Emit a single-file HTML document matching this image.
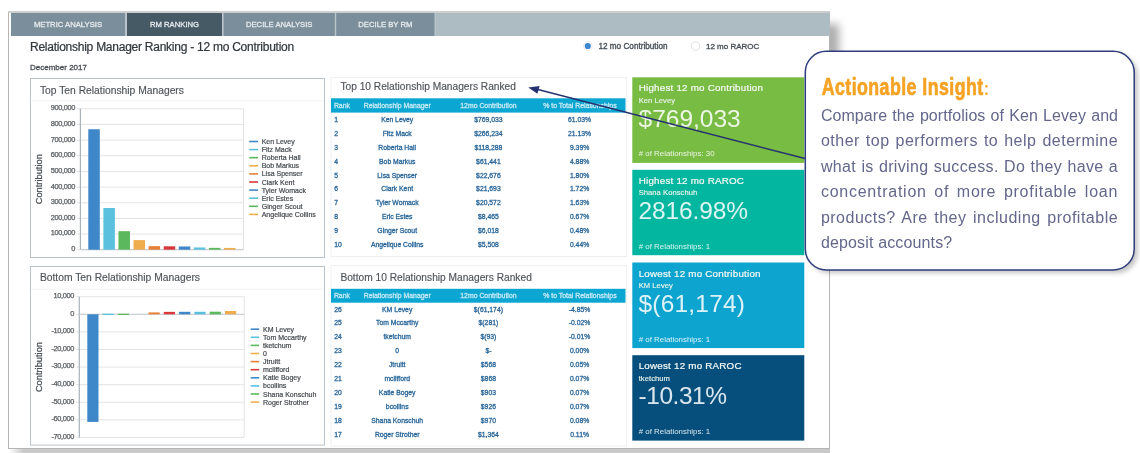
<!DOCTYPE html>
<html><head><meta charset="utf-8"><style>
html,body{margin:0;padding:0;background:#fff;}
body{width:1140px;height:453px;position:relative;overflow:hidden;font-family:"Liberation Sans", sans-serif;filter:blur(0.35px);}
svg{position:absolute;left:0;top:0;}
svg text{font-family:"Liberation Sans", sans-serif;}
.co{position:absolute;left:820.9px;top:103px;width:297.2px;font-size:16px;line-height:25.45px;color:#63678b;text-align:justify;text-align-last:left;}
.co div{text-align:justify;text-align-last:justify;height:25.45px;white-space:nowrap;}
.co div.l{text-align-last:left;}
</style></head><body>
<svg width="1140" height="453" viewBox="0 0 1140 453">
<rect x="8" y="11" width="821.6" height="437.4" fill="#fff"/>
<defs><linearGradient id="shb" x1="0" x2="1" y1="0" y2="0"><stop offset="0" stop-color="#fff"/><stop offset="0.018" stop-color="#c9c9c9"/><stop offset="1" stop-color="#c9c9c9"/></linearGradient><linearGradient id="shr" x1="0" x2="1" y1="0" y2="0"><stop offset="0" stop-color="#c8c8c8"/><stop offset="1" stop-color="#fff" stop-opacity="0"/></linearGradient><filter id="blur2"><feGaussianBlur stdDeviation="2"/></filter></defs>
<rect x="9" y="448.5" width="821" height="5" fill="url(#shb)"/>
<clipPath id="trc"><rect x="829.6" y="11" width="30" height="40"/></clipPath><filter id="trb" x="-50%" y="-50%" width="200%" height="200%"><feGaussianBlur stdDeviation="4.2"/></filter>
<g clip-path="url(#trc)"><rect x="820" y="24" width="19" height="60" fill="#8a8a8a" opacity="0.7" filter="url(#trb)"/></g>
<rect x="8.5" y="11.5" width="821" height="437" fill="none" stroke="#b5b5b5" stroke-width="1"/>
<rect x="8" y="11" width="821.6" height="2" fill="#cdcfd1"/>
<rect x="11" y="13" width="818.6" height="23" fill="#b9c5cb"/>
<rect x="436" y="13" width="393.6" height="23" fill="#adbbc2"/>
<rect x="11" y="13" width="114" height="23" fill="#7a8f9b"/>
<text x="68.0" y="27.4" font-size="7.7" fill="#e4e9ec" font-weight="400" text-anchor="middle" letter-spacing="0" stroke="#e4e9ec" stroke-width="0.3" >METRIC ANALYSIS</text>
<rect x="127" y="13" width="95" height="23" fill="#455a64"/>
<text x="174.5" y="27.4" font-size="7.7" fill="#e4e9ec" font-weight="400" text-anchor="middle" letter-spacing="0" stroke="#e4e9ec" stroke-width="0.3" >RM RANKING</text>
<rect x="223.6" y="13" width="111.20000000000002" height="23" fill="#7a8f9b"/>
<text x="279.2" y="27.4" font-size="7.7" fill="#e4e9ec" font-weight="400" text-anchor="middle" letter-spacing="0" stroke="#e4e9ec" stroke-width="0.3" >DECILE ANALYSIS</text>
<rect x="336.2" y="13" width="98.30000000000001" height="23" fill="#7a8f9b"/>
<text x="385.35" y="27.4" font-size="7.7" fill="#e4e9ec" font-weight="400" text-anchor="middle" letter-spacing="0" stroke="#e4e9ec" stroke-width="0.3" >DECILE BY RM</text>
<text x="30" y="51.4" font-size="12" fill="#32373c" font-weight="400" text-anchor="start" letter-spacing="-0.25" stroke="#32373c" stroke-width="0.22" >Relationship Manager Ranking - 12 mo Contribution</text>
<text x="30" y="69.8" font-size="8.0" fill="#4a4f54" font-weight="400" text-anchor="start" letter-spacing="0" stroke="#4a4f54" stroke-width="0.3" >December 2017</text>
<circle cx="587.8" cy="46" r="4.3" fill="#fff" stroke="#e0e0e0" stroke-width="0.8"/>
<circle cx="587.8" cy="46" r="3.1" fill="#3d87d0"/>
<text x="598.4" y="48.6" font-size="8.2" fill="#485057" font-weight="400" text-anchor="start" letter-spacing="0" stroke="#485057" stroke-width="0.34" >12 mo Contribution</text>
<circle cx="695.5" cy="46" r="4.3" fill="#fff" stroke="#d8d8d8" stroke-width="0.8"/>
<text x="706" y="48.6" font-size="8.0" fill="#485057" font-weight="400" text-anchor="start" letter-spacing="0" stroke="#485057" stroke-width="0.34" >12 mo RAROC</text>
<rect x="30.5" y="78.5" width="294" height="179" fill="#fff" stroke="#b9c4ca" stroke-width="1"/>
<text x="39.9" y="93.5" font-size="10.3" fill="#4f5459" font-weight="400" text-anchor="start" letter-spacing="0" stroke="#4f5459" stroke-width="0.15" >Top Ten Relationship Managers</text>
<line x1="31" x2="324" y1="100.8" y2="100.8" stroke="#f1f3f4" stroke-width="1"/>
<line x1="80.4" x2="243.5" y1="108.8" y2="108.8" stroke="#e4e4e4" stroke-width="1"/>
<text x="75.10000000000001" y="110.2" font-size="7.4" fill="#5a5e62" font-weight="400" text-anchor="end" letter-spacing="-0.35" stroke="#5a5e62" stroke-width="0.25" >900,000</text>
<line x1="77.4" x2="80.4" y1="108.8" y2="108.8" stroke="#dcdcdc" stroke-width="1"/>
<line x1="80.4" x2="243.5" y1="124.46" y2="124.46" stroke="#e4e4e4" stroke-width="1"/>
<text x="75.10000000000001" y="125.86" font-size="7.4" fill="#5a5e62" font-weight="400" text-anchor="end" letter-spacing="-0.35" stroke="#5a5e62" stroke-width="0.25" >800,000</text>
<line x1="77.4" x2="80.4" y1="124.46" y2="124.46" stroke="#dcdcdc" stroke-width="1"/>
<line x1="80.4" x2="243.5" y1="140.12" y2="140.12" stroke="#e4e4e4" stroke-width="1"/>
<text x="75.10000000000001" y="141.52" font-size="7.4" fill="#5a5e62" font-weight="400" text-anchor="end" letter-spacing="-0.35" stroke="#5a5e62" stroke-width="0.25" >700,000</text>
<line x1="77.4" x2="80.4" y1="140.12" y2="140.12" stroke="#dcdcdc" stroke-width="1"/>
<line x1="80.4" x2="243.5" y1="155.78" y2="155.78" stroke="#e4e4e4" stroke-width="1"/>
<text x="75.10000000000001" y="157.18" font-size="7.4" fill="#5a5e62" font-weight="400" text-anchor="end" letter-spacing="-0.35" stroke="#5a5e62" stroke-width="0.25" >600,000</text>
<line x1="77.4" x2="80.4" y1="155.78" y2="155.78" stroke="#dcdcdc" stroke-width="1"/>
<line x1="80.4" x2="243.5" y1="171.44" y2="171.44" stroke="#e4e4e4" stroke-width="1"/>
<text x="75.10000000000001" y="172.84" font-size="7.4" fill="#5a5e62" font-weight="400" text-anchor="end" letter-spacing="-0.35" stroke="#5a5e62" stroke-width="0.25" >500,000</text>
<line x1="77.4" x2="80.4" y1="171.44" y2="171.44" stroke="#dcdcdc" stroke-width="1"/>
<line x1="80.4" x2="243.5" y1="187.1" y2="187.1" stroke="#e4e4e4" stroke-width="1"/>
<text x="75.10000000000001" y="188.5" font-size="7.4" fill="#5a5e62" font-weight="400" text-anchor="end" letter-spacing="-0.35" stroke="#5a5e62" stroke-width="0.25" >400,000</text>
<line x1="77.4" x2="80.4" y1="187.1" y2="187.1" stroke="#dcdcdc" stroke-width="1"/>
<line x1="80.4" x2="243.5" y1="202.76" y2="202.76" stroke="#e4e4e4" stroke-width="1"/>
<text x="75.10000000000001" y="204.16" font-size="7.4" fill="#5a5e62" font-weight="400" text-anchor="end" letter-spacing="-0.35" stroke="#5a5e62" stroke-width="0.25" >300,000</text>
<line x1="77.4" x2="80.4" y1="202.76" y2="202.76" stroke="#dcdcdc" stroke-width="1"/>
<line x1="80.4" x2="243.5" y1="218.42000000000002" y2="218.42000000000002" stroke="#e4e4e4" stroke-width="1"/>
<text x="75.10000000000001" y="219.82000000000002" font-size="7.4" fill="#5a5e62" font-weight="400" text-anchor="end" letter-spacing="-0.35" stroke="#5a5e62" stroke-width="0.25" >200,000</text>
<line x1="77.4" x2="80.4" y1="218.42000000000002" y2="218.42000000000002" stroke="#dcdcdc" stroke-width="1"/>
<line x1="80.4" x2="243.5" y1="234.07999999999998" y2="234.07999999999998" stroke="#e4e4e4" stroke-width="1"/>
<text x="75.10000000000001" y="235.48" font-size="7.4" fill="#5a5e62" font-weight="400" text-anchor="end" letter-spacing="-0.35" stroke="#5a5e62" stroke-width="0.25" >100,000</text>
<line x1="77.4" x2="80.4" y1="234.07999999999998" y2="234.07999999999998" stroke="#dcdcdc" stroke-width="1"/>
<line x1="80.4" x2="243.5" y1="249.74" y2="249.74" stroke="#e4e4e4" stroke-width="1"/>
<text x="75.10000000000001" y="251.14000000000001" font-size="7.4" fill="#5a5e62" font-weight="400" text-anchor="end" letter-spacing="-0.35" stroke="#5a5e62" stroke-width="0.25" >0</text>
<line x1="77.4" x2="80.4" y1="249.74" y2="249.74" stroke="#dcdcdc" stroke-width="1"/>
<line x1="243.5" x2="243.5" y1="108.8" y2="249.74" stroke="#e4e4e4" stroke-width="1"/>
<line x1="80.4" x2="80.4" y1="108.8" y2="249.74" stroke="#a9b3ba" stroke-width="1.2"/>
<line x1="80.4" x2="243.5" y1="249.7" y2="249.7" stroke="#c5cbd0" stroke-width="1"/>
<rect x="88.30" y="129.27" width="11.5" height="120.43" fill="#3e87c8"/>
<rect x="103.38" y="208.01" width="11.5" height="41.69" fill="#5bc0de"/>
<rect x="118.46" y="231.18" width="11.5" height="18.52" fill="#5cb85c"/>
<rect x="133.54" y="240.08" width="11.5" height="9.62" fill="#f0ad4e"/>
<rect x="148.62" y="246.15" width="11.5" height="3.55" fill="#e8803a"/>
<rect x="163.70" y="246.30" width="11.5" height="3.40" fill="#d9383a"/>
<rect x="178.78" y="246.48" width="11.5" height="3.22" fill="#3e87c8"/>
<rect x="193.86" y="247.47" width="11.5" height="2.23" fill="#5bc0de"/>
<rect x="208.94" y="247.86" width="11.5" height="1.84" fill="#5cb85c"/>
<rect x="224.02" y="247.94" width="11.5" height="1.76" fill="#f0ad4e"/>
<text x="0" y="0" font-size="9.3" fill="#4d5257" stroke="#4d5257" stroke-width="0.3" text-anchor="middle" transform="translate(42,179.27) rotate(-90)">Contribution</text>
<line x1="249.2" x2="258" y1="141.5" y2="141.5" stroke="#3e87c8" stroke-width="1.6"/>
<text x="261.7" y="144.0" font-size="7" fill="#45494e" font-weight="400" text-anchor="start" letter-spacing="0" stroke="#45494e" stroke-width="0.2" >Ken Levey</text>
<line x1="249.2" x2="258" y1="149.6" y2="149.6" stroke="#5bc0de" stroke-width="1.6"/>
<text x="261.7" y="152.1" font-size="7" fill="#45494e" font-weight="400" text-anchor="start" letter-spacing="0" stroke="#45494e" stroke-width="0.2" >Fitz Mack</text>
<line x1="249.2" x2="258" y1="157.7" y2="157.7" stroke="#5cb85c" stroke-width="1.6"/>
<text x="261.7" y="160.2" font-size="7" fill="#45494e" font-weight="400" text-anchor="start" letter-spacing="0" stroke="#45494e" stroke-width="0.2" >Roberta Hall</text>
<line x1="249.2" x2="258" y1="165.8" y2="165.8" stroke="#f0ad4e" stroke-width="1.6"/>
<text x="261.7" y="168.3" font-size="7" fill="#45494e" font-weight="400" text-anchor="start" letter-spacing="0" stroke="#45494e" stroke-width="0.2" >Bob Markus</text>
<line x1="249.2" x2="258" y1="173.9" y2="173.9" stroke="#e8803a" stroke-width="1.6"/>
<text x="261.7" y="176.4" font-size="7" fill="#45494e" font-weight="400" text-anchor="start" letter-spacing="0" stroke="#45494e" stroke-width="0.2" >Lisa Spenser</text>
<line x1="249.2" x2="258" y1="182.0" y2="182.0" stroke="#d9383a" stroke-width="1.6"/>
<text x="261.7" y="184.5" font-size="7" fill="#45494e" font-weight="400" text-anchor="start" letter-spacing="0" stroke="#45494e" stroke-width="0.2" >Clark Kent</text>
<line x1="249.2" x2="258" y1="190.1" y2="190.1" stroke="#3e87c8" stroke-width="1.6"/>
<text x="261.7" y="192.6" font-size="7" fill="#45494e" font-weight="400" text-anchor="start" letter-spacing="0" stroke="#45494e" stroke-width="0.2" >Tyler Womack</text>
<line x1="249.2" x2="258" y1="198.2" y2="198.2" stroke="#5bc0de" stroke-width="1.6"/>
<text x="261.7" y="200.7" font-size="7" fill="#45494e" font-weight="400" text-anchor="start" letter-spacing="0" stroke="#45494e" stroke-width="0.2" >Eric Estes</text>
<line x1="249.2" x2="258" y1="206.3" y2="206.3" stroke="#5cb85c" stroke-width="1.6"/>
<text x="261.7" y="208.8" font-size="7" fill="#45494e" font-weight="400" text-anchor="start" letter-spacing="0" stroke="#45494e" stroke-width="0.2" >Ginger Scout</text>
<line x1="249.2" x2="258" y1="214.39999999999998" y2="214.39999999999998" stroke="#f0ad4e" stroke-width="1.6"/>
<text x="261.7" y="216.89999999999998" font-size="7" fill="#45494e" font-weight="400" text-anchor="start" letter-spacing="0" stroke="#45494e" stroke-width="0.2" >Angelique Collins</text>
<rect x="30.5" y="266.5" width="294" height="178.60000000000002" fill="#fff" stroke="#b9c4ca" stroke-width="1"/>
<text x="39.9" y="281.2" font-size="10.3" fill="#4f5459" font-weight="400" text-anchor="start" letter-spacing="0" stroke="#4f5459" stroke-width="0.15" >Bottom Ten Relationship Managers</text>
<line x1="31" x2="324" y1="289.2" y2="289.2" stroke="#f1f3f4" stroke-width="1"/>
<line x1="79.3" x2="244.2" y1="296.7" y2="296.7" stroke="#e4e4e4" stroke-width="1"/>
<text x="74.0" y="298.09999999999997" font-size="7.4" fill="#5a5e62" font-weight="400" text-anchor="end" letter-spacing="-0.35" stroke="#5a5e62" stroke-width="0.25" >10,000</text>
<line x1="76.3" x2="79.3" y1="296.7" y2="296.7" stroke="#dcdcdc" stroke-width="1"/>
<line x1="79.3" x2="244.2" y1="314.28999999999996" y2="314.28999999999996" stroke="#e4e4e4" stroke-width="1"/>
<text x="74.0" y="315.68999999999994" font-size="7.4" fill="#5a5e62" font-weight="400" text-anchor="end" letter-spacing="-0.35" stroke="#5a5e62" stroke-width="0.25" >0</text>
<line x1="76.3" x2="79.3" y1="314.28999999999996" y2="314.28999999999996" stroke="#dcdcdc" stroke-width="1"/>
<line x1="79.3" x2="244.2" y1="331.88" y2="331.88" stroke="#e4e4e4" stroke-width="1"/>
<text x="74.0" y="333.28" font-size="7.4" fill="#5a5e62" font-weight="400" text-anchor="end" letter-spacing="-0.35" stroke="#5a5e62" stroke-width="0.25" >-10,000</text>
<line x1="76.3" x2="79.3" y1="331.88" y2="331.88" stroke="#dcdcdc" stroke-width="1"/>
<line x1="79.3" x2="244.2" y1="349.46999999999997" y2="349.46999999999997" stroke="#e4e4e4" stroke-width="1"/>
<text x="74.0" y="350.86999999999995" font-size="7.4" fill="#5a5e62" font-weight="400" text-anchor="end" letter-spacing="-0.35" stroke="#5a5e62" stroke-width="0.25" >-20,000</text>
<line x1="76.3" x2="79.3" y1="349.46999999999997" y2="349.46999999999997" stroke="#dcdcdc" stroke-width="1"/>
<line x1="79.3" x2="244.2" y1="367.06" y2="367.06" stroke="#e4e4e4" stroke-width="1"/>
<text x="74.0" y="368.46" font-size="7.4" fill="#5a5e62" font-weight="400" text-anchor="end" letter-spacing="-0.35" stroke="#5a5e62" stroke-width="0.25" >-30,000</text>
<line x1="76.3" x2="79.3" y1="367.06" y2="367.06" stroke="#dcdcdc" stroke-width="1"/>
<line x1="79.3" x2="244.2" y1="384.65" y2="384.65" stroke="#e4e4e4" stroke-width="1"/>
<text x="74.0" y="386.04999999999995" font-size="7.4" fill="#5a5e62" font-weight="400" text-anchor="end" letter-spacing="-0.35" stroke="#5a5e62" stroke-width="0.25" >-40,000</text>
<line x1="76.3" x2="79.3" y1="384.65" y2="384.65" stroke="#dcdcdc" stroke-width="1"/>
<line x1="79.3" x2="244.2" y1="402.24" y2="402.24" stroke="#e4e4e4" stroke-width="1"/>
<text x="74.0" y="403.64" font-size="7.4" fill="#5a5e62" font-weight="400" text-anchor="end" letter-spacing="-0.35" stroke="#5a5e62" stroke-width="0.25" >-50,000</text>
<line x1="76.3" x2="79.3" y1="402.24" y2="402.24" stroke="#dcdcdc" stroke-width="1"/>
<line x1="79.3" x2="244.2" y1="419.83" y2="419.83" stroke="#e4e4e4" stroke-width="1"/>
<text x="74.0" y="421.22999999999996" font-size="7.4" fill="#5a5e62" font-weight="400" text-anchor="end" letter-spacing="-0.35" stroke="#5a5e62" stroke-width="0.25" >-60,000</text>
<line x1="76.3" x2="79.3" y1="419.83" y2="419.83" stroke="#dcdcdc" stroke-width="1"/>
<line x1="79.3" x2="244.2" y1="437.41999999999996" y2="437.41999999999996" stroke="#e4e4e4" stroke-width="1"/>
<text x="74.0" y="438.81999999999994" font-size="7.4" fill="#5a5e62" font-weight="400" text-anchor="end" letter-spacing="-0.35" stroke="#5a5e62" stroke-width="0.25" >-70,000</text>
<line x1="76.3" x2="79.3" y1="437.41999999999996" y2="437.41999999999996" stroke="#dcdcdc" stroke-width="1"/>
<line x1="244.2" x2="244.2" y1="296.7" y2="437.41999999999996" stroke="#e4e4e4" stroke-width="1"/>
<line x1="79.3" x2="79.3" y1="296.7" y2="437.41999999999996" stroke="#a9b3ba" stroke-width="1.2"/>
<line x1="79.3" x2="244.2" y1="314.3" y2="314.3" stroke="#c5cbd0" stroke-width="1"/>
<rect x="87.30" y="314.30" width="11.2" height="107.61" fill="#3e87c8"/>
<rect x="102.60" y="313.70" width="11.2" height="1.3" fill="#5bc0de"/>
<rect x="117.90" y="313.70" width="11.2" height="1.3" fill="#5cb85c"/>
<rect x="148.50" y="312.40" width="11.2" height="1.90" fill="#e8803a"/>
<rect x="163.80" y="311.87" width="11.2" height="2.43" fill="#d9383a"/>
<rect x="179.10" y="311.81" width="11.2" height="2.49" fill="#3e87c8"/>
<rect x="194.40" y="311.77" width="11.2" height="2.53" fill="#5bc0de"/>
<rect x="209.70" y="311.69" width="11.2" height="2.61" fill="#5cb85c"/>
<rect x="225.00" y="311.00" width="11.2" height="3.30" fill="#f0ad4e"/>
<text x="0" y="0" font-size="9.3" fill="#4d5257" stroke="#4d5257" stroke-width="0.3" text-anchor="middle" transform="translate(42,367.05999999999995) rotate(-90)">Contribution</text>
<line x1="250.7" x2="259.2" y1="329.2" y2="329.2" stroke="#3e87c8" stroke-width="1.6"/>
<text x="263" y="331.7" font-size="7" fill="#45494e" font-weight="400" text-anchor="start" letter-spacing="0" stroke="#45494e" stroke-width="0.2" >KM Levey</text>
<line x1="250.7" x2="259.2" y1="337.3" y2="337.3" stroke="#5bc0de" stroke-width="1.6"/>
<text x="263" y="339.8" font-size="7" fill="#45494e" font-weight="400" text-anchor="start" letter-spacing="0" stroke="#45494e" stroke-width="0.2" >Tom Mccarthy</text>
<line x1="250.7" x2="259.2" y1="345.4" y2="345.4" stroke="#5cb85c" stroke-width="1.6"/>
<text x="263" y="347.9" font-size="7" fill="#45494e" font-weight="400" text-anchor="start" letter-spacing="0" stroke="#45494e" stroke-width="0.2" >tketchum</text>
<line x1="250.7" x2="259.2" y1="353.5" y2="353.5" stroke="#f0ad4e" stroke-width="1.6"/>
<text x="263" y="356.0" font-size="7" fill="#45494e" font-weight="400" text-anchor="start" letter-spacing="0" stroke="#45494e" stroke-width="0.2" >0</text>
<line x1="250.7" x2="259.2" y1="361.59999999999997" y2="361.59999999999997" stroke="#e8803a" stroke-width="1.6"/>
<text x="263" y="364.09999999999997" font-size="7" fill="#45494e" font-weight="400" text-anchor="start" letter-spacing="0" stroke="#45494e" stroke-width="0.2" >Jtruitt</text>
<line x1="250.7" x2="259.2" y1="369.7" y2="369.7" stroke="#d9383a" stroke-width="1.6"/>
<text x="263" y="372.2" font-size="7" fill="#45494e" font-weight="400" text-anchor="start" letter-spacing="0" stroke="#45494e" stroke-width="0.2" >mclifford</text>
<line x1="250.7" x2="259.2" y1="377.79999999999995" y2="377.79999999999995" stroke="#3e87c8" stroke-width="1.6"/>
<text x="263" y="380.29999999999995" font-size="7" fill="#45494e" font-weight="400" text-anchor="start" letter-spacing="0" stroke="#45494e" stroke-width="0.2" >Katie Bogey</text>
<line x1="250.7" x2="259.2" y1="385.9" y2="385.9" stroke="#5bc0de" stroke-width="1.6"/>
<text x="263" y="388.4" font-size="7" fill="#45494e" font-weight="400" text-anchor="start" letter-spacing="0" stroke="#45494e" stroke-width="0.2" >bcollins</text>
<line x1="250.7" x2="259.2" y1="394.0" y2="394.0" stroke="#5cb85c" stroke-width="1.6"/>
<text x="263" y="396.5" font-size="7" fill="#45494e" font-weight="400" text-anchor="start" letter-spacing="0" stroke="#45494e" stroke-width="0.2" >Shana Konschuh</text>
<line x1="250.7" x2="259.2" y1="402.09999999999997" y2="402.09999999999997" stroke="#f0ad4e" stroke-width="1.6"/>
<text x="263" y="404.59999999999997" font-size="7" fill="#45494e" font-weight="400" text-anchor="start" letter-spacing="0" stroke="#45494e" stroke-width="0.2" >Roger Strother</text>
<rect x="331" y="77.5" width="295.6" height="179.0" fill="#fff" stroke="#eef0f2" stroke-width="1"/>
<text x="340.4" y="89.8" font-size="10.2" fill="#4f5459" font-weight="400" text-anchor="start" letter-spacing="0" stroke="#4f5459" stroke-width="0.15" >Top 10 Relationship Managers Ranked</text>
<rect x="331" y="98.3" width="294.5" height="14.299999999999997" fill="#0ba6d1"/>
<text x="333.9" y="107.74999999999999" font-size="6.9" fill="#c4e9f5" font-weight="400" text-anchor="start" letter-spacing="0" stroke="#c4e9f5" stroke-width="0.3" >Rank</text>
<text x="397.2" y="107.74999999999999" font-size="6.9" fill="#c4e9f5" font-weight="400" text-anchor="middle" letter-spacing="0" stroke="#c4e9f5" stroke-width="0.3" >Relationship Manager</text>
<text x="488.4" y="107.74999999999999" font-size="6.9" fill="#c4e9f5" font-weight="400" text-anchor="middle" letter-spacing="0" stroke="#c4e9f5" stroke-width="0.3" >12mo Contribution</text>
<text x="579.9" y="107.74999999999999" font-size="6.9" fill="#c4e9f5" font-weight="400" text-anchor="middle" letter-spacing="0" stroke="#c4e9f5" stroke-width="0.3" >% to Total Relationships</text>
<text x="334.2" y="122.15" font-size="6.8" fill="#2a679a" font-weight="400" text-anchor="start" letter-spacing="0" stroke="#2a679a" stroke-width="0.3" >1</text>
<text x="397.2" y="122.15" font-size="6.8" fill="#2a679a" font-weight="400" text-anchor="middle" letter-spacing="0" stroke="#2a679a" stroke-width="0.3" >Ken Levey</text>
<text x="488.4" y="122.15" font-size="6.8" fill="#2a679a" font-weight="400" text-anchor="middle" letter-spacing="0" stroke="#2a679a" stroke-width="0.3" >$769,033</text>
<text x="579.6" y="122.15" font-size="6.8" fill="#2a679a" font-weight="400" text-anchor="middle" letter-spacing="0" stroke="#2a679a" stroke-width="0.3" >61.03%</text>
<text x="334.2" y="136.0" font-size="6.8" fill="#2a679a" font-weight="400" text-anchor="start" letter-spacing="0" stroke="#2a679a" stroke-width="0.3" >2</text>
<text x="397.2" y="136.0" font-size="6.8" fill="#2a679a" font-weight="400" text-anchor="middle" letter-spacing="0" stroke="#2a679a" stroke-width="0.3" >Fitz Mack</text>
<text x="488.4" y="136.0" font-size="6.8" fill="#2a679a" font-weight="400" text-anchor="middle" letter-spacing="0" stroke="#2a679a" stroke-width="0.3" >$266,234</text>
<text x="579.6" y="136.0" font-size="6.8" fill="#2a679a" font-weight="400" text-anchor="middle" letter-spacing="0" stroke="#2a679a" stroke-width="0.3" >21.13%</text>
<text x="334.2" y="149.85" font-size="6.8" fill="#2a679a" font-weight="400" text-anchor="start" letter-spacing="0" stroke="#2a679a" stroke-width="0.3" >3</text>
<text x="397.2" y="149.85" font-size="6.8" fill="#2a679a" font-weight="400" text-anchor="middle" letter-spacing="0" stroke="#2a679a" stroke-width="0.3" >Roberta Hall</text>
<text x="488.4" y="149.85" font-size="6.8" fill="#2a679a" font-weight="400" text-anchor="middle" letter-spacing="0" stroke="#2a679a" stroke-width="0.3" >$118,288</text>
<text x="579.6" y="149.85" font-size="6.8" fill="#2a679a" font-weight="400" text-anchor="middle" letter-spacing="0" stroke="#2a679a" stroke-width="0.3" >9.39%</text>
<text x="334.2" y="163.70000000000002" font-size="6.8" fill="#2a679a" font-weight="400" text-anchor="start" letter-spacing="0" stroke="#2a679a" stroke-width="0.3" >4</text>
<text x="397.2" y="163.70000000000002" font-size="6.8" fill="#2a679a" font-weight="400" text-anchor="middle" letter-spacing="0" stroke="#2a679a" stroke-width="0.3" >Bob Markus</text>
<text x="488.4" y="163.70000000000002" font-size="6.8" fill="#2a679a" font-weight="400" text-anchor="middle" letter-spacing="0" stroke="#2a679a" stroke-width="0.3" >$61,441</text>
<text x="579.6" y="163.70000000000002" font-size="6.8" fill="#2a679a" font-weight="400" text-anchor="middle" letter-spacing="0" stroke="#2a679a" stroke-width="0.3" >4.88%</text>
<text x="334.2" y="177.55" font-size="6.8" fill="#2a679a" font-weight="400" text-anchor="start" letter-spacing="0" stroke="#2a679a" stroke-width="0.3" >5</text>
<text x="397.2" y="177.55" font-size="6.8" fill="#2a679a" font-weight="400" text-anchor="middle" letter-spacing="0" stroke="#2a679a" stroke-width="0.3" >Lisa Spenser</text>
<text x="488.4" y="177.55" font-size="6.8" fill="#2a679a" font-weight="400" text-anchor="middle" letter-spacing="0" stroke="#2a679a" stroke-width="0.3" >$22,676</text>
<text x="579.6" y="177.55" font-size="6.8" fill="#2a679a" font-weight="400" text-anchor="middle" letter-spacing="0" stroke="#2a679a" stroke-width="0.3" >1.80%</text>
<text x="334.2" y="191.4" font-size="6.8" fill="#2a679a" font-weight="400" text-anchor="start" letter-spacing="0" stroke="#2a679a" stroke-width="0.3" >6</text>
<text x="397.2" y="191.4" font-size="6.8" fill="#2a679a" font-weight="400" text-anchor="middle" letter-spacing="0" stroke="#2a679a" stroke-width="0.3" >Clark Kent</text>
<text x="488.4" y="191.4" font-size="6.8" fill="#2a679a" font-weight="400" text-anchor="middle" letter-spacing="0" stroke="#2a679a" stroke-width="0.3" >$21,693</text>
<text x="579.6" y="191.4" font-size="6.8" fill="#2a679a" font-weight="400" text-anchor="middle" letter-spacing="0" stroke="#2a679a" stroke-width="0.3" >1.72%</text>
<text x="334.2" y="205.25" font-size="6.8" fill="#2a679a" font-weight="400" text-anchor="start" letter-spacing="0" stroke="#2a679a" stroke-width="0.3" >7</text>
<text x="397.2" y="205.25" font-size="6.8" fill="#2a679a" font-weight="400" text-anchor="middle" letter-spacing="0" stroke="#2a679a" stroke-width="0.3" >Tyler Womack</text>
<text x="488.4" y="205.25" font-size="6.8" fill="#2a679a" font-weight="400" text-anchor="middle" letter-spacing="0" stroke="#2a679a" stroke-width="0.3" >$20,572</text>
<text x="579.6" y="205.25" font-size="6.8" fill="#2a679a" font-weight="400" text-anchor="middle" letter-spacing="0" stroke="#2a679a" stroke-width="0.3" >1.63%</text>
<text x="334.2" y="219.1" font-size="6.8" fill="#2a679a" font-weight="400" text-anchor="start" letter-spacing="0" stroke="#2a679a" stroke-width="0.3" >8</text>
<text x="397.2" y="219.1" font-size="6.8" fill="#2a679a" font-weight="400" text-anchor="middle" letter-spacing="0" stroke="#2a679a" stroke-width="0.3" >Eric Estes</text>
<text x="488.4" y="219.1" font-size="6.8" fill="#2a679a" font-weight="400" text-anchor="middle" letter-spacing="0" stroke="#2a679a" stroke-width="0.3" >$8,465</text>
<text x="579.6" y="219.1" font-size="6.8" fill="#2a679a" font-weight="400" text-anchor="middle" letter-spacing="0" stroke="#2a679a" stroke-width="0.3" >0.67%</text>
<text x="334.2" y="232.95000000000002" font-size="6.8" fill="#2a679a" font-weight="400" text-anchor="start" letter-spacing="0" stroke="#2a679a" stroke-width="0.3" >9</text>
<text x="397.2" y="232.95000000000002" font-size="6.8" fill="#2a679a" font-weight="400" text-anchor="middle" letter-spacing="0" stroke="#2a679a" stroke-width="0.3" >Ginger Scout</text>
<text x="488.4" y="232.95000000000002" font-size="6.8" fill="#2a679a" font-weight="400" text-anchor="middle" letter-spacing="0" stroke="#2a679a" stroke-width="0.3" >$6,018</text>
<text x="579.6" y="232.95000000000002" font-size="6.8" fill="#2a679a" font-weight="400" text-anchor="middle" letter-spacing="0" stroke="#2a679a" stroke-width="0.3" >0.48%</text>
<text x="334.2" y="246.79999999999998" font-size="6.8" fill="#2a679a" font-weight="400" text-anchor="start" letter-spacing="0" stroke="#2a679a" stroke-width="0.3" >10</text>
<text x="397.2" y="246.79999999999998" font-size="6.8" fill="#2a679a" font-weight="400" text-anchor="middle" letter-spacing="0" stroke="#2a679a" stroke-width="0.3" >Angelique Collins</text>
<text x="488.4" y="246.79999999999998" font-size="6.8" fill="#2a679a" font-weight="400" text-anchor="middle" letter-spacing="0" stroke="#2a679a" stroke-width="0.3" >$5,508</text>
<text x="579.6" y="246.79999999999998" font-size="6.8" fill="#2a679a" font-weight="400" text-anchor="middle" letter-spacing="0" stroke="#2a679a" stroke-width="0.3" >0.44%</text>
<rect x="331" y="265.6" width="295.6" height="180.39999999999998" fill="#fff" stroke="#eef0f2" stroke-width="1"/>
<text x="340.4" y="280.6" font-size="10.2" fill="#4f5459" font-weight="400" text-anchor="start" letter-spacing="0" stroke="#4f5459" stroke-width="0.15" >Bottom 10 Relationship Managers Ranked</text>
<rect x="331" y="288.8" width="294.5" height="13.899999999999977" fill="#0ba6d1"/>
<text x="333.9" y="298.05" font-size="6.9" fill="#c4e9f5" font-weight="400" text-anchor="start" letter-spacing="0" stroke="#c4e9f5" stroke-width="0.3" >Rank</text>
<text x="397.2" y="298.05" font-size="6.9" fill="#c4e9f5" font-weight="400" text-anchor="middle" letter-spacing="0" stroke="#c4e9f5" stroke-width="0.3" >Relationship Manager</text>
<text x="488.4" y="298.05" font-size="6.9" fill="#c4e9f5" font-weight="400" text-anchor="middle" letter-spacing="0" stroke="#c4e9f5" stroke-width="0.3" >12mo Contribution</text>
<text x="579.9" y="298.05" font-size="6.9" fill="#c4e9f5" font-weight="400" text-anchor="middle" letter-spacing="0" stroke="#c4e9f5" stroke-width="0.3" >% to Total Relationships</text>
<text x="334.2" y="311.5" font-size="6.8" fill="#2a679a" font-weight="400" text-anchor="start" letter-spacing="0" stroke="#2a679a" stroke-width="0.3" >26</text>
<text x="397.2" y="311.5" font-size="6.8" fill="#2a679a" font-weight="400" text-anchor="middle" letter-spacing="0" stroke="#2a679a" stroke-width="0.3" >KM Levey</text>
<text x="488.4" y="311.5" font-size="6.8" fill="#2a679a" font-weight="400" text-anchor="middle" letter-spacing="0" stroke="#2a679a" stroke-width="0.3" >$(61,174)</text>
<text x="579.6" y="311.5" font-size="6.8" fill="#2a679a" font-weight="400" text-anchor="middle" letter-spacing="0" stroke="#2a679a" stroke-width="0.3" >-4.85%</text>
<text x="334.2" y="325.47" font-size="6.8" fill="#2a679a" font-weight="400" text-anchor="start" letter-spacing="0" stroke="#2a679a" stroke-width="0.3" >25</text>
<text x="397.2" y="325.47" font-size="6.8" fill="#2a679a" font-weight="400" text-anchor="middle" letter-spacing="0" stroke="#2a679a" stroke-width="0.3" >Tom Mccarthy</text>
<text x="488.4" y="325.47" font-size="6.8" fill="#2a679a" font-weight="400" text-anchor="middle" letter-spacing="0" stroke="#2a679a" stroke-width="0.3" >$(281)</text>
<text x="579.6" y="325.47" font-size="6.8" fill="#2a679a" font-weight="400" text-anchor="middle" letter-spacing="0" stroke="#2a679a" stroke-width="0.3" >-0.02%</text>
<text x="334.2" y="339.44" font-size="6.8" fill="#2a679a" font-weight="400" text-anchor="start" letter-spacing="0" stroke="#2a679a" stroke-width="0.3" >24</text>
<text x="397.2" y="339.44" font-size="6.8" fill="#2a679a" font-weight="400" text-anchor="middle" letter-spacing="0" stroke="#2a679a" stroke-width="0.3" >tketchum</text>
<text x="488.4" y="339.44" font-size="6.8" fill="#2a679a" font-weight="400" text-anchor="middle" letter-spacing="0" stroke="#2a679a" stroke-width="0.3" >$(93)</text>
<text x="579.6" y="339.44" font-size="6.8" fill="#2a679a" font-weight="400" text-anchor="middle" letter-spacing="0" stroke="#2a679a" stroke-width="0.3" >-0.01%</text>
<text x="334.2" y="353.41" font-size="6.8" fill="#2a679a" font-weight="400" text-anchor="start" letter-spacing="0" stroke="#2a679a" stroke-width="0.3" >23</text>
<text x="397.2" y="353.41" font-size="6.8" fill="#2a679a" font-weight="400" text-anchor="middle" letter-spacing="0" stroke="#2a679a" stroke-width="0.3" >0</text>
<text x="488.4" y="353.41" font-size="6.8" fill="#2a679a" font-weight="400" text-anchor="middle" letter-spacing="0" stroke="#2a679a" stroke-width="0.3" >$-</text>
<text x="579.6" y="353.41" font-size="6.8" fill="#2a679a" font-weight="400" text-anchor="middle" letter-spacing="0" stroke="#2a679a" stroke-width="0.3" >0.00%</text>
<text x="334.2" y="367.38" font-size="6.8" fill="#2a679a" font-weight="400" text-anchor="start" letter-spacing="0" stroke="#2a679a" stroke-width="0.3" >22</text>
<text x="397.2" y="367.38" font-size="6.8" fill="#2a679a" font-weight="400" text-anchor="middle" letter-spacing="0" stroke="#2a679a" stroke-width="0.3" >Jtruitt</text>
<text x="488.4" y="367.38" font-size="6.8" fill="#2a679a" font-weight="400" text-anchor="middle" letter-spacing="0" stroke="#2a679a" stroke-width="0.3" >$568</text>
<text x="579.6" y="367.38" font-size="6.8" fill="#2a679a" font-weight="400" text-anchor="middle" letter-spacing="0" stroke="#2a679a" stroke-width="0.3" >0.05%</text>
<text x="334.2" y="381.35" font-size="6.8" fill="#2a679a" font-weight="400" text-anchor="start" letter-spacing="0" stroke="#2a679a" stroke-width="0.3" >21</text>
<text x="397.2" y="381.35" font-size="6.8" fill="#2a679a" font-weight="400" text-anchor="middle" letter-spacing="0" stroke="#2a679a" stroke-width="0.3" >mclifford</text>
<text x="488.4" y="381.35" font-size="6.8" fill="#2a679a" font-weight="400" text-anchor="middle" letter-spacing="0" stroke="#2a679a" stroke-width="0.3" >$868</text>
<text x="579.6" y="381.35" font-size="6.8" fill="#2a679a" font-weight="400" text-anchor="middle" letter-spacing="0" stroke="#2a679a" stroke-width="0.3" >0.07%</text>
<text x="334.2" y="395.32" font-size="6.8" fill="#2a679a" font-weight="400" text-anchor="start" letter-spacing="0" stroke="#2a679a" stroke-width="0.3" >20</text>
<text x="397.2" y="395.32" font-size="6.8" fill="#2a679a" font-weight="400" text-anchor="middle" letter-spacing="0" stroke="#2a679a" stroke-width="0.3" >Katie Bogey</text>
<text x="488.4" y="395.32" font-size="6.8" fill="#2a679a" font-weight="400" text-anchor="middle" letter-spacing="0" stroke="#2a679a" stroke-width="0.3" >$903</text>
<text x="579.6" y="395.32" font-size="6.8" fill="#2a679a" font-weight="400" text-anchor="middle" letter-spacing="0" stroke="#2a679a" stroke-width="0.3" >0.07%</text>
<text x="334.2" y="409.29" font-size="6.8" fill="#2a679a" font-weight="400" text-anchor="start" letter-spacing="0" stroke="#2a679a" stroke-width="0.3" >19</text>
<text x="397.2" y="409.29" font-size="6.8" fill="#2a679a" font-weight="400" text-anchor="middle" letter-spacing="0" stroke="#2a679a" stroke-width="0.3" >bcollins</text>
<text x="488.4" y="409.29" font-size="6.8" fill="#2a679a" font-weight="400" text-anchor="middle" letter-spacing="0" stroke="#2a679a" stroke-width="0.3" >$926</text>
<text x="579.6" y="409.29" font-size="6.8" fill="#2a679a" font-weight="400" text-anchor="middle" letter-spacing="0" stroke="#2a679a" stroke-width="0.3" >0.07%</text>
<text x="334.2" y="423.26" font-size="6.8" fill="#2a679a" font-weight="400" text-anchor="start" letter-spacing="0" stroke="#2a679a" stroke-width="0.3" >18</text>
<text x="397.2" y="423.26" font-size="6.8" fill="#2a679a" font-weight="400" text-anchor="middle" letter-spacing="0" stroke="#2a679a" stroke-width="0.3" >Shana Konschuh</text>
<text x="488.4" y="423.26" font-size="6.8" fill="#2a679a" font-weight="400" text-anchor="middle" letter-spacing="0" stroke="#2a679a" stroke-width="0.3" >$970</text>
<text x="579.6" y="423.26" font-size="6.8" fill="#2a679a" font-weight="400" text-anchor="middle" letter-spacing="0" stroke="#2a679a" stroke-width="0.3" >0.08%</text>
<text x="334.2" y="437.23" font-size="6.8" fill="#2a679a" font-weight="400" text-anchor="start" letter-spacing="0" stroke="#2a679a" stroke-width="0.3" >17</text>
<text x="397.2" y="437.23" font-size="6.8" fill="#2a679a" font-weight="400" text-anchor="middle" letter-spacing="0" stroke="#2a679a" stroke-width="0.3" >Roger Strother</text>
<text x="488.4" y="437.23" font-size="6.8" fill="#2a679a" font-weight="400" text-anchor="middle" letter-spacing="0" stroke="#2a679a" stroke-width="0.3" >$1,364</text>
<text x="579.6" y="437.23" font-size="6.8" fill="#2a679a" font-weight="400" text-anchor="middle" letter-spacing="0" stroke="#2a679a" stroke-width="0.3" >0.11%</text>
<rect x="632.3" y="77.3" width="172" height="85.60000000000001" fill="#79bc44"/>
<text x="638.7" y="91.3" font-size="9.8" fill="#f4f8f4" font-weight="400" text-anchor="start" letter-spacing="0.22" stroke="#f4f8f4" stroke-width="0.22" >Highest 12 mo Contribution</text>
<text x="638.7" y="102.6" font-size="7.6" fill="#e9f3ea" font-weight="400" text-anchor="start" letter-spacing="0.05" stroke="#e9f3ea" stroke-width="0.15" >Ken Levey</text>
<text x="638.5" y="126.5" font-size="24.5" fill="#ffffff" font-weight="400" text-anchor="start" letter-spacing="0.0" fill-opacity="0.86">$769,033</text>
<text x="638.7" y="156.3" font-size="7.9" fill="#ffffff" font-weight="400" text-anchor="start" letter-spacing="0" fill-opacity="0.85"># of Relationships: 30</text>
<rect x="632.3" y="169.8" width="172" height="85.39999999999998" fill="#03b6a0"/>
<text x="638.7" y="183.8" font-size="9.8" fill="#f4f8f4" font-weight="400" text-anchor="start" letter-spacing="0.22" stroke="#f4f8f4" stroke-width="0.22" >Highest 12 mo RAROC</text>
<text x="638.7" y="195.10000000000002" font-size="7.6" fill="#e9f3ea" font-weight="400" text-anchor="start" letter-spacing="0.05" stroke="#e9f3ea" stroke-width="0.15" >Shana Konschuh</text>
<text x="638.5" y="219.0" font-size="24.5" fill="#ffffff" font-weight="400" text-anchor="start" letter-spacing="-0.1" fill-opacity="0.86">2816.98%</text>
<text x="638.7" y="248.8" font-size="7.9" fill="#ffffff" font-weight="400" text-anchor="start" letter-spacing="0" fill-opacity="0.85"># of Relationships: 1</text>
<rect x="632.3" y="262.5" width="172" height="85.60000000000002" fill="#0da5cf"/>
<text x="638.7" y="276.5" font-size="9.8" fill="#f4f8f4" font-weight="400" text-anchor="start" letter-spacing="0.22" stroke="#f4f8f4" stroke-width="0.22" >Lowest 12 mo Contribution</text>
<text x="638.7" y="287.8" font-size="7.6" fill="#e9f3ea" font-weight="400" text-anchor="start" letter-spacing="0.05" stroke="#e9f3ea" stroke-width="0.15" >KM Levey</text>
<text x="638.5" y="311.7" font-size="24.5" fill="#ffffff" font-weight="400" text-anchor="start" letter-spacing="0.2" fill-opacity="0.86">$(61,174)</text>
<text x="638.7" y="341.5" font-size="7.9" fill="#ffffff" font-weight="400" text-anchor="start" letter-spacing="0" fill-opacity="0.85"># of Relationships: 1</text>
<rect x="632.3" y="355.2" width="172" height="85.40000000000003" fill="#064f7d"/>
<text x="638.7" y="369.2" font-size="9.8" fill="#f4f8f4" font-weight="400" text-anchor="start" letter-spacing="0.22" stroke="#f4f8f4" stroke-width="0.22" >Lowest 12 mo RAROC</text>
<text x="638.7" y="380.5" font-size="7.6" fill="#e9f3ea" font-weight="400" text-anchor="start" letter-spacing="0.05" stroke="#e9f3ea" stroke-width="0.15" >tketchum</text>
<text x="638.5" y="404.4" font-size="24.5" fill="#ffffff" font-weight="400" text-anchor="start" letter-spacing="-0.45" fill-opacity="0.86">-10.31%</text>
<text x="638.7" y="434.2" font-size="7.9" fill="#ffffff" font-weight="400" text-anchor="start" letter-spacing="0" fill-opacity="0.85"># of Relationships: 1</text>
<line x1="536" y1="89.0" x2="805" y2="158.6" stroke="#25326f" stroke-width="1.55"/>
<polygon points="528.3,87.5 539.6,85.9 537.4,93.7" fill="#25326f"/>
<filter id="cosh" x="-10%" y="-10%" width="130%" height="130%"><feGaussianBlur stdDeviation="2.5"/></filter>
<rect x="808.8" y="54.5" width="328.9" height="218.6" rx="21" ry="21" fill="#000" opacity="0.24" filter="url(#cosh)"/>
<rect x="805.3" y="51.3" width="328.9" height="218.6" rx="21" ry="21" fill="#fff" stroke="#2e3d7c" stroke-width="1.5"/>
<text x="821.7" y="94.7" font-size="24" font-weight="700" fill="#f6a223" stroke="#f6a223" stroke-width="0.7" letter-spacing="0.6" transform="translate(821.7,0) scale(0.74,1) translate(-821.7,0)">Actionable Insight</text>
<text x="984.0" y="94.6" font-size="18.5" font-weight="700" fill="#f6a223" transform="translate(984.0,0) scale(0.8,1) translate(-984.0,0)">:</text>
</svg>
<div class="co"><div style="letter-spacing:0.06px">Compare the portfolios of Ken Levey and</div><div style="letter-spacing:0.5px">other top performers to help determine</div><div style="letter-spacing:0.33px">what is driving success. Do they have a</div><div style="letter-spacing:0.75px">concentration of more profitable loan</div><div style="letter-spacing:0.5px">products? Are they including profitable</div><div class=l style="letter-spacing:0.15px">deposit accounts?</div></div>
</body></html>
